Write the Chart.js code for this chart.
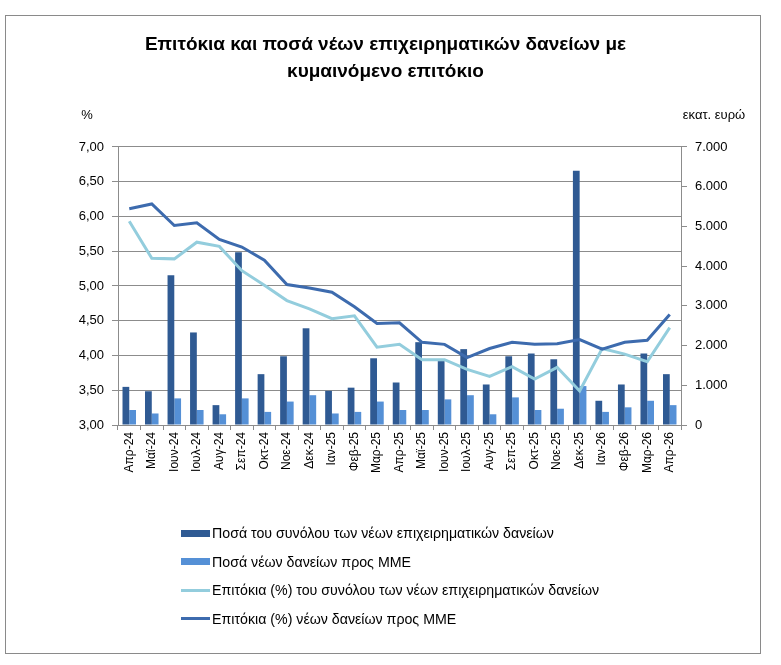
<!DOCTYPE html>
<html>
<head>
<meta charset="utf-8">
<title>Επιτόκια και ποσά νέων επιχειρηματικών δανείων</title>
<script src="https://cdn.jsdelivr.net/npm/chart.js@4.4.1/dist/chart.umd.min.js"></script>
<style>
    body { margin: 0; background: #fff; }
    #wrap { position: relative; width: 781px; height: 665px; font-family: "Liberation Sans", Arial, sans-serif; }
    #frame { position: absolute; left: 5px; top: 15px; width: 754px; height: 637px; border: 1px solid #8a8a8a; }
    #chart { position: absolute; left: 0; top: 0; }
    #legend { position: absolute; left: 181px; top: 519px; font-size: 14.2px; color: #000; }
    .item { display: flex; align-items: center; height: 28.5px; white-space: nowrap; }
    .sw { width: 29px; margin-right: 2px; }
</style>
</head>
<body>
<div id="wrap">
    <div id="frame"></div>
    <canvas id="chart" width="781" height="665"></canvas>
    <div id="legend"></div>
</div>
<script>
// μήνες
const months = ['Απρ-24', 'Μαϊ-24', 'Ιουν-24', 'Ιουλ-24', 'Αυγ-24', 'Σεπ-24', 'Οκτ-24', 'Νοε-24', 'Δεκ-24',
    'Ιαν-25', 'Φεβ-25', 'Μαρ-25', 'Απρ-25', 'Μαϊ-25', 'Ιουν-25', 'Ιουλ-25', 'Αυγ-25', 'Σεπ-25', 'Οκτ-25',
    'Νοε-25', 'Δεκ-25', 'Ιαν-26', 'Φεβ-26', 'Μαρ-26', 'Απρ-26'];

// ποσά (εκατ. ευρώ)
const totalAmount = [960, 850, 3770, 2330, 500, 4350, 1280, 1730, 2435, 860, 940, 1680, 1070,
    2085, 1610, 1910, 1020, 1730, 1800, 1655, 6400, 610, 1020, 1800, 1280];
const smeAmount = [377, 290, 670, 377, 270, 670, 330, 590, 750, 290, 330, 590, 377,
    377, 645, 750, 270, 695, 377, 410, 980, 330, 445, 610, 500];

// επιτόκια (%)
const totalRate = [5.93, 5.40, 5.39, 5.63, 5.57, 5.22, 5.01, 4.79, 4.67, 4.53, 4.57, 4.12, 4.16,
    3.94, 3.94, 3.80, 3.70, 3.84, 3.66, 3.83, 3.49, 4.10, 4.02, 3.91, 4.40];
const smeRate = [6.11, 6.18, 5.87, 5.91, 5.67, 5.56, 5.37, 5.02, 4.97, 4.91, 4.70, 4.46, 4.47,
    4.19, 4.16, 3.97, 4.10, 4.19, 4.16, 4.17, 4.23, 4.09, 4.19, 4.22, 4.59];

const seriesNames = [
    'Ποσά του συνόλου των νέων επιχειρηματικών δανείων',
    'Ποσά νέων δανείων προς ΜΜΕ',
    'Επιτόκια (%) του συνόλου των νέων επιχειρηματικών δανείων',
    'Επιτόκια (%) νέων δανείων προς ΜΜΕ'
];

const darkBar = '#2f5a93';
const lightBar = '#5590d6';
const lightLine = '#93cddd';
const darkLine = '#3d6bae';
const gridColor = '#8c8c8c';
const textColor = '#000';
const fontFamily = '"Liberation Sans", Arial, sans-serif';

// "%" και "εκατ. ευρώ" πάνω από τους άξονες
const axisUnits = {
    id: 'axisUnits',
    afterDraw(chart) {
        const { ctx, chartArea } = chart;
        ctx.save();
        ctx.fillStyle = textColor;
        ctx.font = '13px ' + fontFamily;
        ctx.textBaseline = 'middle';
        ctx.textAlign = 'center';
        ctx.fillText('%', chartArea.left - 31, chartArea.top - 32);
        ctx.fillText('εκατ. ευρώ', chartArea.right + 33, chartArea.top - 32);
        ctx.restore();
    }
};

new Chart(document.getElementById('chart'), {
    type: 'bar',
    data: {
        labels: months,
        datasets: [
            { type: 'line', label: seriesNames[3], data: smeRate, yAxisID: 'y', order: 0,
              borderColor: darkLine, borderWidth: 3, pointRadius: 0, tension: 0, fill: false },
            { type: 'line', label: seriesNames[2], data: totalRate, yAxisID: 'y', order: 1,
              borderColor: lightLine, borderWidth: 3, pointRadius: 0, tension: 0, fill: false },
            { label: seriesNames[0], data: totalAmount, yAxisID: 'y1', order: 2,
              backgroundColor: darkBar, barPercentage: 1, categoryPercentage: 0.6 },
            { label: seriesNames[1], data: smeAmount, yAxisID: 'y1', order: 3,
              backgroundColor: lightBar, barPercentage: 1, categoryPercentage: 0.6 }
        ]
    },
    options: {
        responsive: false,
        animation: false,
        layout: { padding: { left: 10, right: 20, top: 0, bottom: 160 } },
        plugins: {
            legend: { display: false },
            tooltip: { enabled: false },
            title: {
                display: true,
                text: ['Επιτόκια και ποσά νέων επιχειρηματικών δανείων με', 'κυμαινόμενο επιτόκιο'],
                color: textColor,
                font: { family: fontFamily, size: 19, weight: 'bold', lineHeight: 1.42 },
                padding: { top: 31.5, bottom: 61.5 }
            }
        },
        scales: {
            x: {
                offset: true,
                grid: { offset: true, drawOnChartArea: false, tickLength: 5, color: gridColor },
                border: { color: gridColor },
                ticks: { color: textColor, autoSkip: false, maxRotation: 90, minRotation: 90, padding: 2,
                         font: { family: fontFamily, size: 12 } },
                afterFit(scale) { scale.height = 80; }
            },
            y: {
                position: 'left',
                min: 3, max: 7,
                grid: { color: gridColor, tickLength: 6 },
                border: { color: gridColor },
                ticks: { stepSize: 0.5, color: textColor, padding: 8,
                         font: { family: fontFamily, size: 13 },
                         callback: v => v.toFixed(2).replace('.', ',') },
                afterFit(scale) { scale.width = 108; }
            },
            y1: {
                position: 'right',
                min: 0, max: 7000,
                grid: { drawOnChartArea: false, color: gridColor, tickLength: 6 },
                border: { color: gridColor },
                ticks: { stepSize: 1000, color: textColor, padding: 8,
                         font: { family: fontFamily, size: 13 },
                         callback: v => v === 0 ? '0' : (v / 1000).toFixed(3) },
                afterFit(scale) { scale.width = 80; }
            }
        }
    },
    plugins: [axisUnits]
});

// υπόμνημα
const legendItems = [
    { name: seriesNames[0], color: darkBar, kind: 'box' },
    { name: seriesNames[1], color: lightBar, kind: 'box' },
    { name: seriesNames[2], color: lightLine, kind: 'line' },
    { name: seriesNames[3], color: darkLine, kind: 'line' }
];
const legendEl = document.getElementById('legend');
legendItems.forEach(it => {
    const row = document.createElement('div');
    row.className = 'item';
    const sw = document.createElement('span');
    sw.className = 'sw';
    sw.style.background = it.color;
    sw.style.height = it.kind === 'box' ? '7px' : '3px';
    const txt = document.createElement('span');
    txt.textContent = it.name;
    row.appendChild(sw);
    row.appendChild(txt);
    legendEl.appendChild(row);
});
</script>
</body>
</html>
